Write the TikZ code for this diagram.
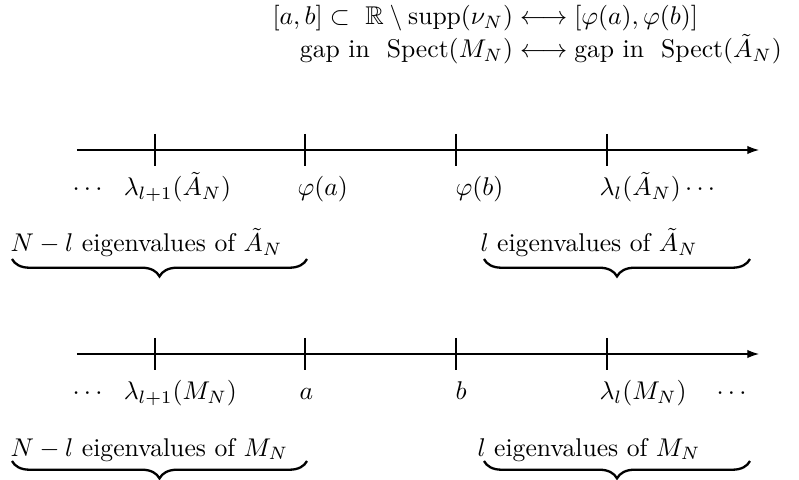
\documentclass[tikz,border=0pt]{standalone}
\usepackage{amsmath,amssymb}
\usetikzlibrary{positioning, arrows.meta, decorations.pathreplacing}

\begin{document}
\begin{tikzpicture}[
    x=0.39pt, y=-0.39pt,
    axis/.style={-{Latex[length=4.5pt, width=3.2pt]}},
    tickmark/.style={line cap=butt},
    lbl/.style={inner sep=0pt, anchor=base west},
    ubrace/.style={decorate, decoration={brace, mirror, amplitude=6.8pt}, line width=0.9pt}
]
\useasboundingbox (0,0) rectangle (799,480);

% correspondence between the two spectra
\node[inner sep=0pt, anchor=west] (corr) at (272,35) {$\begin{array}{@{}r@{}l@{}}
  [a,b]\subset\ \mathbb{R}\setminus\mathrm{supp}(\nu_N) & {}\longleftrightarrow[\varphi(a),\varphi(b)]\\
  \text{gap in }\ \mathrm{Spect}(M_N) & {}\longleftrightarrow\text{gap in }\ \mathrm{Spect}(\tilde{A}_N)
\end{array}$};

% upper axis: spectrum of A_N
\coordinate (uaxL) at (77,150);
\coordinate (uaxR) at (759,150);
\draw[axis] (uaxL) -- (uaxR);
\foreach \x/\n in {155/1, 305/2, 456/3, 607/4}{
    \coordinate (ut\n) at (\x,150);
    \draw[tickmark] (ut\n) ++(0,-16) -- ++(0,32);
}
\node[lbl] (ulamA) at (72,196) {$\cdots\ \ \lambda_{l+1}(\tilde{A}_N)$};
\node[lbl] (uphia) at (297,196) {$\varphi(a)$};
\node[lbl] (uphib) at (455,196) {$\varphi(b)$};
\node[lbl] (ulamB) at (599,196) {$\lambda_l(\tilde{A}_N)\cdots$};

\node[lbl] (uleft) at (10,252) {$N-l$ eigenvalues of $\tilde{A}_N$};
\node[lbl] (uright) at (480,252) {$l$ eigenvalues of $\tilde{A}_N$};
\coordinate (ubrL1) at (12,259);
\coordinate (ubrL2) at (307,259);
\coordinate (ubrR1) at (484,259);
\coordinate (ubrR2) at (750,259);
\draw[ubrace] (ubrL1) -- (ubrL2);
\draw[ubrace] (ubrR1) -- (ubrR2);

% lower axis: spectrum of M_N
\coordinate (laxL) at (77,354);
\coordinate (laxR) at (759,354);
\draw[axis] (laxL) -- (laxR);
\foreach \x/\n in {155/1, 305/2, 456/3, 607/4}{
    \coordinate (lt\n) at (\x,354);
    \draw[tickmark] (lt\n) ++(0,-16) -- ++(0,32);
}
\node[lbl] (llamA) at (72,400) {$\cdots\ \ \lambda_{l+1}(M_N)$};
\node[lbl] (la) at (299,400) {$a$};
\node[lbl] (lb) at (455,400) {$b$};
\node[lbl] (llamB) at (599,400) {$\lambda_l(M_N)\quad\cdots$};

\node[lbl] (lleft) at (10,456) {$N-l$ eigenvalues of $M_N$};
\node[lbl] (lright) at (477,456) {$l$ eigenvalues of $M_N$};
\coordinate (lbrL1) at (12,461);
\coordinate (lbrL2) at (307,461);
\coordinate (lbrR1) at (484,461);
\coordinate (lbrR2) at (750,461);
\draw[ubrace] (lbrL1) -- (lbrL2);
\draw[ubrace] (lbrR1) -- (lbrR2);

\end{tikzpicture}
\end{document}
